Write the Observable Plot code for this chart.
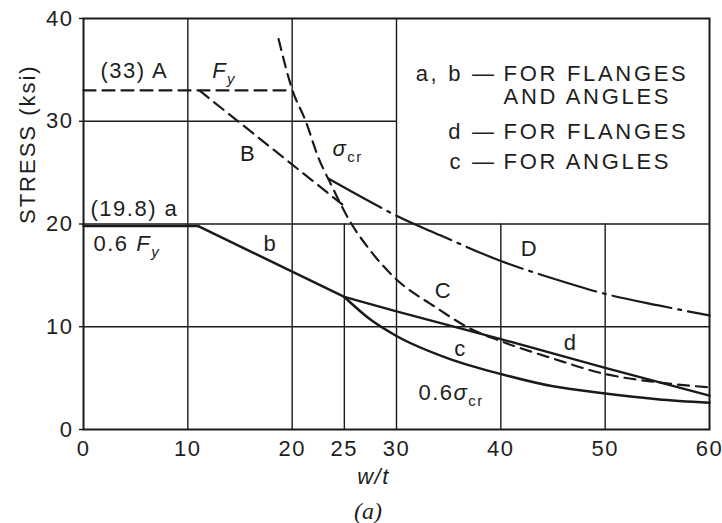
<!DOCTYPE html>
<html><head><meta charset="utf-8">
<script src="https://cdn.jsdelivr.net/npm/d3@7"></script>
<script src="https://cdn.jsdelivr.net/npm/@observablehq/plot@0.6"></script>
<style>
body{margin:0;background:#fff;}
#wrap{position:relative;width:722px;height:523px;background:#fff;}
#cap{position:absolute;left:0;width:736px;top:499px;text-align:center;font:italic 24px/24px 'Liberation Serif','Times New Roman',serif;color:#1e1e1e;}
</style></head><body><div id="wrap"><div id="cap">(a)</div></div>
<script>
// axes
const xTicks = [0, 10, 20, 25, 30, 40, 50, 60];
const yTicks = [0, 10, 20, 30, 40];
// grid segments (data units)
const gridX = [10, 20, 25, 30, 40, 50];
const gridXTop = [40, 40, 20, 40, 20, 20];
const gridY = [10, 20, 30];
const gridYRight = [60, 60, 30];

// curves [w/t, stress]
const lineA = [[0, 33], [20, 33]];                          // (33) A  Fy, dashed
const sigmaCr = [[18.7, 38.0], [20, 33.1], [21.3, 30.0], [22.5, 26.5], [23.7, 23.9], [25.4, 20.5],
  [27.5, 17.4], [30, 14.6], [33.6, 12.0], [37.1, 9.8], [40, 8.6], [45, 6.9], [50, 5.4], [55, 4.6], [60, 4.1]];
const lineB = [[11.1, 33], [24.8, 21.9]];                   // B, dashed
const lineD = [[23.5, 24.4], [28.5, 21.6], [30, 20.8], [34.2, 18.9], [40, 16.4], [45, 14.7],
  [50, 13.2], [55, 12.1], [60, 11.1]];                       // D, dash-dot
const linea = [[0, 19.8], [11, 19.8]];                      // (19.8) a
const lineb = [[11, 19.8], [25, 12.9]];                     // b
const lined = [[25, 12.9], [30, 11.5], [40, 8.8], [50, 6.0], [60, 3.3]]; // d
const lineC06 = [[25, 12.9], [27.5, 10.7], [30, 9.1], [35, 6.9], [40, 5.4], [45, 4.2],
  [50, 3.5], [55, 2.95], [60, 2.6]];                         // c, 0.6 sigma_cr

// annotation texts and anchors
const annText = ["(33) A", "*F*_*y*", "B", "*σ*_cr", "(19.8) a", "0.6 *F*_*y*", "b", "D", "C", "c", "d", "0.6*σ*_cr"];
const annX = [1.63, 12.33, 15.77, 23.87, 0.67, 0.96, 17.92, 42.75, 34.5, 36.13, 46.68, 32.1];
const annY = [34.94, 34.94, 26.86, 27.35, 21.5, 18.1, 18.1, 17.6, 13.5, 7.88, 8.47, 3.6];
const annAnchor = ["start", "start", "middle", "start", "start", "start", "middle", "middle", "middle", "middle", "middle", "start"];

const keyLeft = ["a, b —", "", "d —", "c —"];
const keyRight = ["FOR FLANGES", "AND ANGLES", "FOR FLANGES", "FOR ANGLES"];
const keyY = [34.58, 32.34, 29.0, 25.99];
const keyXLeft = 39.6, keyXRight = 40.26;

const xTitle = "w/t", yTitle = "STRESS (ksi)";

const ink = "#1a1a1a", txt = "#1e1e1e";
const ann = annText.map((t, i) => ({t, x: annX[i], y: annY[i], a: annAnchor[i]}));
const vg = gridX.map((x, i) => ({x, y2: gridXTop[i]}));
const hg = gridY.map((y, i) => ({y, x2: gridYRight[i]}));
const key = keyRight.map((r, i) => ({l: keyLeft[i], r, y: keyY[i]}));

const svg = Plot.plot({
  width: 722, height: 490,
  marginLeft: 83, marginRight: 13, marginTop: 18, marginBottom: 61,
  style: {fontFamily: "'Liberation Sans', Arial, sans-serif", fontSize: "22px", letterSpacing: "1.5px", color: txt, background: "#fff"},
  x: {domain: [0, 60]},
  y: {domain: [0, 40]},
  marks: [
    Plot.ruleX(vg, {x: "x", y1: 0, y2: "y2", stroke: ink, strokeWidth: 1.4}),
    Plot.ruleY(hg, {y: "y", x1: 0, x2: "x2", stroke: ink, strokeWidth: 1.4}),
    Plot.frame({stroke: ink, strokeWidth: 2}),
    Plot.axisX({ticks: xTicks, tickSize: 0, tickPadding: 11, tickFormat: d => String(d), label: null}),
    Plot.axisY({ticks: yTicks, tickSize: 4, tickPadding: 6, tickFormat: d => String(d), label: null, stroke: ink, strokeWidth: 1.4}),
    Plot.line(lineA, {stroke: ink, strokeWidth: 2.2, strokeDasharray: "12,7"}),
    Plot.line(sigmaCr, {stroke: ink, strokeWidth: 2.2, strokeDasharray: "11,7", curve: "monotone-x"}),
    Plot.line(lineB, {stroke: ink, strokeWidth: 2.2, strokeDasharray: "12,7"}),
    Plot.line(lineD, {stroke: ink, strokeWidth: 2.2, strokeDasharray: "60,7,3,7", curve: "monotone-x"}),
    Plot.line(linea, {stroke: ink, strokeWidth: 2.5}),
    Plot.line(lineb, {stroke: ink, strokeWidth: 2.5}),
    Plot.line(lined, {stroke: ink, strokeWidth: 2.3}),
    Plot.line(lineC06, {stroke: ink, strokeWidth: 2.5, curve: "monotone-x"}),
    Plot.text(ann, {filter: d => d.a === "start", x: "x", y: "y", text: "t", textAnchor: "start", fill: txt}),
    Plot.text(ann, {filter: d => d.a === "middle", x: "x", y: "y", text: "t", textAnchor: "middle", fill: txt}),
    Plot.text(key, {x: keyXLeft, y: "y", text: "l", textAnchor: "end", fill: txt}),
    Plot.text(key, {x: keyXRight, y: "y", text: "r", textAnchor: "start", fill: txt}),
    Plot.text([xTitle], {x: 27.8, y: -4.57, text: d => d, fontStyle: "italic", fill: txt}),
    Plot.text([yTitle], {frameAnchor: "left", dx: -56, rotate: -90, text: d => d, fill: txt})
  ]
});

const keySet = new Set([...keyLeft, ...keyRight].filter(s => s));
svg.querySelectorAll("text").forEach(t => {
  const c = t.textContent;
  if (keySet.has(c)) t.setAttribute("style", "letter-spacing:2.7px");
  else if (c === yTitle) t.setAttribute("style", "letter-spacing:2px");
});

const NS = "http://www.w3.org/2000/svg";
svg.querySelectorAll("text").forEach(el => {
  const s = el.textContent;
  if (!/[*_]/.test(s)) return;
  while (el.firstChild) el.removeChild(el.firstChild);
  const re = /\*([^*]+)\*|_(\*?)([^*\s]+)\*?|([^*_]+)/g;
  let m;
  while ((m = re.exec(s))) {
    const t = document.createElementNS(NS, "tspan");
    if (m[1] !== undefined) { t.textContent = m[1]; t.setAttribute("font-style", "italic"); }
    else if (m[3] !== undefined) { t.textContent = m[3]; t.setAttribute("font-size", "15"); t.setAttribute("dy", "6"); if (m[2]) t.setAttribute("font-style", "italic"); }
    else t.textContent = m[4];
    el.appendChild(t);
  }
});
document.getElementById("wrap").prepend(svg);
</script>
</body></html>
